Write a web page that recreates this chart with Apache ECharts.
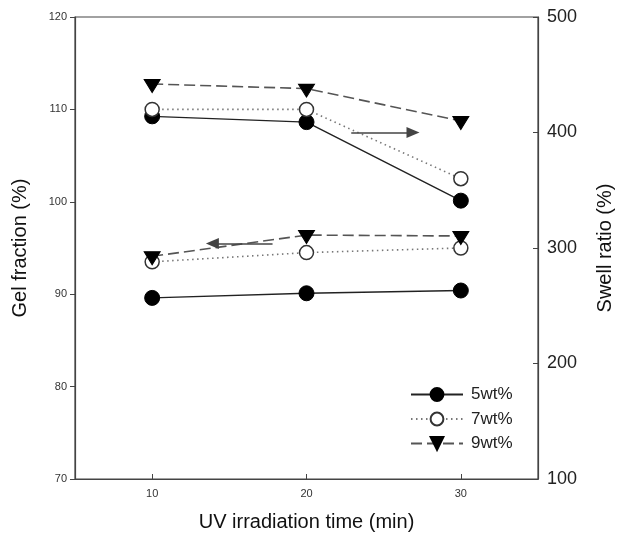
<!DOCTYPE html>
<html>
<head>
<meta charset="utf-8">
<script src="https://cdn.jsdelivr.net/npm/echarts@6/dist/echarts.min.js"></script>
<style>html,body{margin:0;padding:0;background:#fff}#c{width:617px;height:539px}</style>
</head>
<body>
<div id="c"></div>
<script>
// ---- data ----
var times = [10, 20, 30];
var seriesNames = ['5wt%', '7wt%', '9wt%'];
var gel5 = [89.6, 90.1, 90.4];
var gel7 = [93.5, 94.5, 95.0];
var gel9 = [94.1, 96.4, 96.3];
var swell5 = [414, 409, 341];
var swell7 = [420, 420, 360];
var swell9 = [442, 438, 410];
var xTicks = [10, 20, 30];
// annotation arrows: [xStart, xEnd, y]
var arrowSwell = [22.9, 26.9, 400];
var arrowGel = [17.8, 13.9, 95.5];

var FONT = '"Liberation Sans", Arial, sans-serif';
function pts(vals) { return times.map(function (t, i) { return [t, vals[i]]; }); }

var styles = {
  '5wt%': { line: { color: '#222', width: 1.4, type: 'solid' }, symbol: 'circle', size: 15,
            item: { color: '#000', borderColor: '#000', borderWidth: 1 }, offset: [0, 0] },
  '7wt%': { line: { color: '#777', width: 1.6, type: [1.5, 3.5] }, symbol: 'circle', size: 14,
            item: { color: '#fff', borderColor: '#333', borderWidth: 1.5 }, offset: [0, 0] },
  '9wt%': { line: { color: '#555', width: 1.6, type: [11, 5] }, symbol: 'triangle', size: [16, 13],
            item: { color: '#000', borderColor: '#000', borderWidth: 1 }, offset: [0, 2] }
};

function mk(name, vals, yIdx, extra) {
  var s = styles[name];
  var o = {
    name: name, type: 'line', yAxisIndex: yIdx, data: pts(vals),
    symbol: s.symbol, symbolSize: s.size, symbolRotate: s.symbol === 'triangle' ? 180 : 0,
    symbolOffset: s.offset,
    lineStyle: s.line, itemStyle: s.item, animation: false, z: 3
  };
  if (extra) o.markLine = extra;
  return o;
}

function arrowML(a) {
  return {
    silent: true, animation: false, symbol: ['none', 'triangle'], symbolSize: [11, 13],
    label: { show: false }, lineStyle: { color: '#444', width: 1.5, type: 'solid' },
    itemStyle: { color: '#111' },
    data: [[{ coord: [a[0], a[2]] }, { coord: [a[1], a[2]] }]]
  };
}

var chart = echarts.init(document.getElementById('c'), null, { renderer: 'canvas' });
chart.setOption({
  backgroundColor: '#fff',
  textStyle: { fontFamily: FONT },
  grid: { left: 75, right: 79, top: 17, bottom: 60, outerBoundsMode: 'none', containLabel: false,
          show: true, borderColor: '#444', borderWidth: 1.2, backgroundColor: 'transparent' },
  legend: {
    data: seriesNames, orient: 'vertical', left: 405, top: 381,
    itemWidth: 52, itemHeight: 16, itemGap: 7.5,
    textStyle: { fontFamily: FONT, fontSize: 17, color: '#222', padding: [0, 0, 0, 3] },
    selectedMode: false
  },
  xAxis: {
    type: 'value', min: 5, max: 35,
    name: 'UV irradiation time (min)', nameLocation: 'middle', nameGap: 33,
    nameTextStyle: { fontFamily: FONT, fontSize: 20, color: '#111' },
    axisLine: { show: true, onZero: false, lineStyle: { color: '#444', width: 1.2 } },
    axisTick: { show: true, inside: true, length: 5, customValues: xTicks, lineStyle: { color: '#444' } },
    axisLabel: { customValues: xTicks, fontSize: 11, color: '#333', margin: 9, fontFamily: FONT },
    splitLine: { show: false }
  },
  yAxis: [{
    type: 'value', min: 70, max: 120, interval: 10, position: 'left',
    name: 'Gel fraction (%)', nameLocation: 'middle', nameGap: 45, nameRotate: 90,
    nameTextStyle: { fontFamily: FONT, fontSize: 20, color: '#111' },
    axisLine: { show: true, lineStyle: { color: '#444', width: 1.2 } },
    axisTick: { show: true, inside: false, length: 5, lineStyle: { color: '#444' } },
    axisLabel: { fontSize: 11, color: '#333', margin: 8, fontFamily: FONT },
    splitLine: { show: false }
  }, {
    type: 'value', min: 100, max: 500, interval: 100, position: 'right',
    name: 'Swell ratio (%)', nameLocation: 'middle', nameGap: 57, nameRotate: 90,
    nameTextStyle: { fontFamily: FONT, fontSize: 20, color: '#111' },
    axisLine: { show: true, lineStyle: { color: '#444', width: 1.2 } },
    axisTick: { show: true, inside: true, length: 5, lineStyle: { color: '#444' } },
    axisLabel: { fontSize: 18, color: '#222', margin: 9, fontFamily: FONT },
    splitLine: { show: false }
  }],
  series: [
    mk('5wt%', gel5, 0),
    mk('7wt%', gel7, 0),
    mk('9wt%', gel9, 0, arrowML(arrowGel)),
    mk('5wt%', swell5, 1),
    mk('7wt%', swell7, 1),
    mk('9wt%', swell9, 1, arrowML(arrowSwell))
  ]
});
</script>
</body>
</html>
